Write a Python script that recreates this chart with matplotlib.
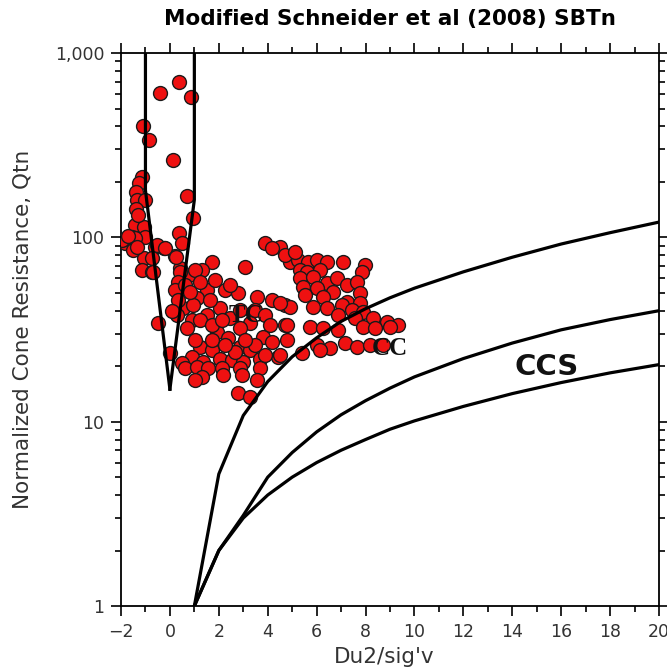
import numpy as np
import matplotlib
matplotlib.use("Agg")
import matplotlib.pyplot as plt
from matplotlib.ticker import FixedLocator, MultipleLocator, NullFormatter

# CPT data points (Du2/sig'v, Qtn)
du = [-0.41, 0.37, 0.86, -1.10, -0.86, 0.12, 0.70, 0.94,
      -1.15, -1.27, -1.39, -1.35, -1.02, -1.39, -1.43, -1.06, -1.55, -1.02,
      -1.84, -1.43, -0.61, -0.25, 0.37, 0.49, 0.20, -1.06, -0.74, -1.15,
      -0.74, 0.41, 1.72, 1.31, 0.78, -1.96, -1.72, -1.31, -1.51, -1.35,
      -0.53, -0.20, 0.25, 3.07, 0.41, -0.70, 0.33, 1.51, 1.10, 2.25,
      2.78, 3.56, 4.17, 4.70, 0.53, 0.94, 1.51, 2.04, 2.45, 3.27,
      0.29, 0.90, -0.49, 0.70, 4.70, 1.92, 2.37, 3.80, 4.17, 2.86,
      3.27, 4.79, 1.23, 1.72, 0.00, 0.90, 0.49, 1.35, 2.04, 2.54,
      2.99, 3.68, 4.42, 0.61, 1.10, 1.55, 2.13, 2.86, 3.68, 1.31,
      2.17, 2.94, 3.56, 1.02, 2.78, 3.27,
      0.20, 0.61, 0.33, 0.82, 0.08, 1.02, 1.23, 1.64, 1.84, 2.45,
      2.86, 3.48, 3.90, 1.23, 1.72, 2.13, 2.86, 2.66, 3.48, 3.90,
      1.72, 1.02, 2.25, 3.07, 4.09,
      4.50, 3.89, 4.17, 4.91, 5.24, 5.64, 6.01, 6.42, 7.08, 7.98,
      7.85, 5.32, 5.60, 6.13, 5.32, 5.85, 6.42, 6.83, 7.24, 7.65,
      5.44, 6.01, 6.67, 7.77, 5.52, 6.26, 7.24, 7.77, 4.91, 4.50,
      5.85, 6.42, 7.03, 6.87, 7.44, 7.89, 8.30, 8.88, 9.33, 7.57,
      7.89, 8.38, 9.00, 4.79, 5.73, 6.26, 6.87, 6.01, 6.54, 7.16,
      7.65, 8.18, 8.71, 6.13, 5.40, 4.50, 4.70, 5.10]
qtn = [607, 697, 578, 402, 338, 263, 168, 127,
       213, 197, 176, 160, 160, 143, 117, 114, 100, 100,
       93, 99, 89, 88, 106, 93, 79, 77, 77, 66.5,
       65, 68, 73.5, 66.5, 62.5, 97, 102, 132, 85.5, 89,
       91, 88, 78, 69, 65, 65, 57, 52, 47, 52,
       50, 47.5, 45.7, 43, 41.4, 43, 38, 41.4, 36.5, 34.3,
       38, 35.6, 34.3, 32.2, 33.5, 30.7, 28.5, 28.8, 27, 25.4,
       24.5, 27.7, 25.4, 24.5, 23.6, 22.4, 20.8, 21, 22, 21.6,
       21, 22, 22.4, 19.6, 19.8, 19.6, 19.6, 19.6, 19.6, 17.5,
       17.9, 17.9, 16.8, 16.8, 14.3, 13.6,
       52, 55, 45.7, 50.6, 40, 66.5, 57, 45.7, 58.7, 55,
       40.4, 40.4, 38, 35.6, 33.5, 35.6, 32.2, 24, 26, 23,
       27.7, 27.7, 26, 27.7, 33.5,
       89, 93, 88, 73.5, 75.4, 73.5, 75.4, 73.5, 73.5, 70.8,
       65, 66.5, 65, 66.5, 60.2, 61, 56.6, 60.2, 55.2, 57.5,
       53.8, 53, 50.6, 50, 48.7, 47.5, 44.6, 44, 41.9, 44,
       41.9, 41.4, 43, 38, 40.4, 39.4, 36.5, 34.7, 33.5, 36.5,
       32.6, 32.2, 32.6, 33.5, 32.6, 32.2, 31.5, 26, 25, 26.8,
       25.4, 26, 26, 24.5, 23.6, 23, 80, 83]

# SBTn zone boundaries
left_x = [-1, -1, 0]
left_q = [1000, 180, 15]
right_x = [1, 1, 0]
right_q = [1000, 160, 15]

curve_x = [1, 2, 3, 4, 5, 6, 7, 8, 9, 10, 12, 14, 16, 18, 20]
upper_q = [1, 5.2, 10.8, 16.5, 22.5, 28.5, 35, 41, 47, 53, 65, 78, 92, 106, 121]
middle_q = [1, 2.0, 3.1, 5.0, 6.8, 8.8, 10.9, 13.0, 15.2, 17.5, 22, 26.7, 31.5, 35.8, 40]
lower_q = [1, 2.0, 3.0, 4.0, 5.0, 6.0, 7.0, 8.0, 9.1, 10.1, 12.1, 14.2, 16.3, 18.4, 20.4]

y_ticks = [1, 10, 100, 1000]
y_ticklabels = ["1", "10", "100", "1,000"]

fig = plt.figure(figsize=(6.67, 6.72), dpi=100)
ax = fig.add_axes([0.1814, 0.0982, 0.8066, 0.8229])

ax.scatter(du, qtn, s=100, c="#ee1111", edgecolors="#1a1a1a", linewidths=1.0, zorder=3)

lw = 2.3
ax.plot(left_x, left_q, color="black", lw=lw, zorder=4)
ax.plot(right_x, right_q, color="black", lw=lw, zorder=4)
ax.plot(curve_x, upper_q, color="black", lw=lw, zorder=4)
ax.plot(curve_x, middle_q, color="black", lw=lw, zorder=4)
ax.plot(curve_x, lower_q, color="black", lw=lw, zorder=4)

ax.text(3.1, 37.9, "TC", fontsize=18, fontweight="bold", family="Liberation Serif",
        ha="center", va="center", color="#111111", zorder=5)
ax.text(9.0, 24.8, "CC", fontsize=18, fontweight="bold", family="Liberation Serif",
        ha="center", va="center", color="#111111", zorder=5)
ax.text(15.4, 19.8, "CCS", fontsize=21, fontweight="bold",
        ha="center", va="center", color="#111111", zorder=5)

ax.set_yscale("log")
ax.set_xlim(-2, 20)
ax.set_ylim(1, 1000)
ax.xaxis.set_major_locator(MultipleLocator(2))
ax.xaxis.set_minor_locator(MultipleLocator(1))
ax.yaxis.set_major_locator(FixedLocator(y_ticks))
ax.set_yticklabels(y_ticklabels)
ax.yaxis.set_minor_locator(FixedLocator([m * 10 ** e for e in range(3) for m in range(2, 10)]))
ax.yaxis.set_minor_formatter(NullFormatter())

ax.tick_params(which="both", direction="out", top=True, right=True, width=1.2,
               labelsize=12.5, labelcolor="#333333", colors="black")
ax.tick_params(which="major", length=7, pad=5)
ax.tick_params(which="minor", length=4)
for sp in ax.spines.values():
    sp.set_linewidth(1.3)

ax.set_xlabel("Du2/sig'v", fontsize=15.5, color="#333333")
ax.xaxis.set_label_coords(0.49, -0.075)
ax.set_ylabel("Normalized Cone Resistance, Qtn", fontsize=15.5, color="#333333")
ax.yaxis.set_label_coords(-0.165, 0.5)
ax.set_title("Modified Schneider et al (2008) SBTn", fontsize=15.5, fontweight="bold", pad=20)

fig.savefig("out.png", dpi=100)
